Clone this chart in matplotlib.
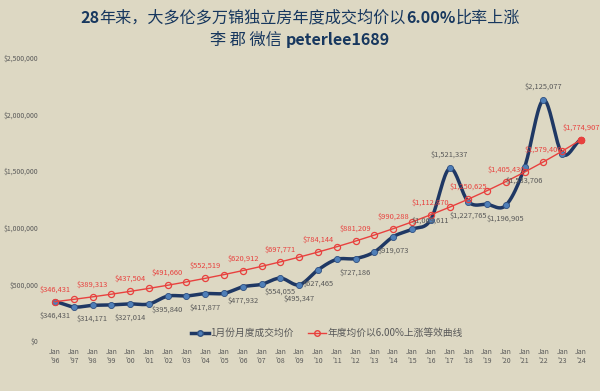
import numpy as np
import matplotlib
matplotlib.use('Agg')
import matplotlib.pyplot as plt
from matplotlib.lines import Line2D

plt.rcParams['font.family'] = ['Noto Sans CJK SC', 'DejaVu Sans']

# data
years = ["'96", "'97", "'98", "'99", "'00", "'01", "'02", "'03", "'04", "'05",
         "'06", "'07", "'08", "'09", "'10", "'11", "'12", "'13", "'14", "'15",
         "'16", "'17", "'18", "'19", "'20", "'21", "'22", "'23", "'24"]
jan_price = [346431, 300000, 314171, 318000, 327014, 326000, 395840, 397000, 417877, 420000,
             477932, 500000, 554055, 495347, 627465, 720000, 727186, 785000, 919073, 985000,
             1069611, 1521337, 1227765, 1205000, 1196905, 1533706, 2125077, 1650000, 1774907]
trend_price = [346431, 367220, 389313, 412750, 437504, 463750, 491660, 521160, 552519, 585670,
               620912, 658170, 697771, 739640, 784144, 831190, 881209, 934080, 990288, 1049700,
               1112870, 1179640, 1250625, 1325660, 1405430, 1489750, 1579400, 1674160, 1774907]
jan_labels = [0, 2, 4, 6, 8, 10, 12, 13, 14, 16, 18, 20, 21, 22, 24, 25, 26]
jan_labels_above = [21, 26]
trend_labels = list(range(0, 29, 2))

navy = '#1f3864'
marker_blue = '#4f7fb8'
red = '#e8413e'
bg = '#ddd8c3'
grey = '#595959'
title_color = '#17375e'


def smooth(x, y, n=20):
    # excel style smoothed line (catmull-rom)
    x = np.asarray(x, float)
    y = np.asarray(y, float)
    px = np.concatenate([[2 * x[0] - x[1]], x, [2 * x[-1] - x[-2]]])
    py = np.concatenate([[y[0]], y, [y[-1]]])
    xs, ys = [], []
    for i in range(1, len(px) - 2):
        t = np.linspace(0, 1, n, endpoint=False)
        for p, out in ((px, xs), (py, ys)):
            p0, p1, p2, p3 = p[i - 1], p[i], p[i + 1], p[i + 2]
            m1 = (p2 - p0) / 2
            m2 = (p3 - p1) / 2
            h00 = 2 * t**3 - 3 * t**2 + 1
            h10 = t**3 - 2 * t**2 + t
            h01 = -2 * t**3 + 3 * t**2
            h11 = t**3 - t**2
            out.extend(h00 * p1 + h10 * m1 + h01 * p2 + h11 * m2)
    xs.append(x[-1])
    ys.append(y[-1])
    return np.array(xs), np.array(ys)


fig = plt.figure(figsize=(6, 3.91), dpi=100, facecolor=bg)
ax = fig.add_axes([0.076, 0.1279, 0.908, 0.7251])
ax.set_facecolor(bg)

x = np.arange(len(years))
sx, sy = smooth(x, jan_price)
ax.plot(sx, sy, color=navy, lw=2.5, solid_capstyle='round', zorder=3)
ax.plot(x, jan_price, ls='none', marker='o', ms=4.4, mfc=marker_blue,
        mec='#2f4f80', mew=0.6, zorder=4)
ax.plot(x, trend_price, color=red, lw=1.0, marker='o', ms=4.4, mfc='none',
        mec=red, mew=0.9, zorder=5)
ax.plot(x[-1], trend_price[-1], ls='none', marker='o', ms=4.4, mfc=red, mec=red, zorder=6)

for i in jan_labels:
    if i in jan_labels_above:
        off, va = 7, 'bottom'
    elif i == 20:
        off, va = -1, 'center'
    else:
        off, va = -7, 'top'
    ax.annotate('${:,}'.format(jan_price[i]), (x[i], jan_price[i]), xytext=(0, off),
                textcoords='offset points', ha='center', va=va, fontsize=5.4, color=grey, zorder=7)
for i in trend_labels:
    ax.annotate('${:,}'.format(trend_price[i]), (x[i], trend_price[i]), xytext=(0, 6),
                textcoords='offset points', ha='center', va='bottom', fontsize=5.4, color=red, zorder=7)

ax.set_xlim(-0.5, len(years) - 0.5)
ax.set_ylim(0, 2500000)
ax.set_yticks(np.arange(0, 2500001, 500000))
ax.set_yticklabels(['${:,}'.format(v) for v in range(0, 2500001, 500000)])
ax.set_xticks(x)
ax.set_xticklabels(['Jan\n' + y for y in years])
ax.tick_params(axis='y', length=0, pad=5, labelsize=4.9, labelcolor=grey)
ax.tick_params(axis='x', length=0, pad=5, labelsize=5, labelcolor=grey)
for s in ax.spines.values():
    s.set_visible(False)

handles = [Line2D([], [], color=navy, lw=2.5, marker='o', ms=4, mfc=marker_blue, mec='#2f4f80'),
           Line2D([], [], color=red, lw=1.0, marker='o', ms=4, mfc='none', mec=red)]
fig.legend(handles, ['1月份月度成交均价', '年度均价以6.00%上涨等效曲线'], loc='center',
           bbox_to_anchor=(0.545, 1 - 333 / 391), ncol=2, frameon=False, fontsize=7,
           labelcolor=grey, handlelength=1.8, handletextpad=0.15, columnspacing=1.5)


def place(parts, ycenter, size=11.6):
    # title line built from pieces: latin parts bold, chinese parts regular
    r = fig.canvas.get_renderer()
    arts = [fig.text(0, ycenter, s, fontsize=size, fontweight=w, color=title_color,
                     va='center', ha='left') for s, w in parts]
    widths = [a.get_window_extent(renderer=r).width / fig.bbox.width for a in arts]
    pos = 0.5 - sum(widths) / 2
    for a, wd in zip(arts, widths):
        a.set_x(pos)
        pos += wd


place([('28', 'bold'), ('年来，大多伦多万锦独立房年度成交均价以', 'normal'), ('6.00%', 'bold'),
       ('比率上涨', 'normal')], 1 - 18 / 391)
place([('李 郡 微信 ', 'normal'), ('peterlee1689', 'bold')], 1 - 40 / 391)

fig.savefig('out.png', dpi=100, facecolor=bg)
